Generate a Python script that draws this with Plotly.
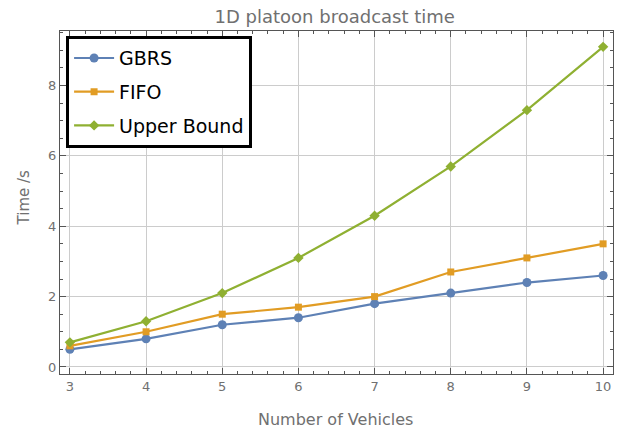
import plotly.graph_objects as go

vehicles = [3, 4, 5, 6, 7, 8, 9, 10]
gbrs = [0.5, 0.8, 1.2, 1.4, 1.8, 2.1, 2.4, 2.6]
fifo = [0.6, 1.0, 1.5, 1.7, 2.0, 2.7, 3.1, 3.5]
upper = [0.7, 1.3, 2.1, 3.1, 4.3, 5.7, 7.3, 9.1]

series = [
    ("GBRS", gbrs, "#5E81B5", "circle", 9),
    ("FIFO", fifo, "#E19C24", "square", 7),
    ("Upper Bound", upper, "#8FB032", "diamond", 8),
]

fig = go.Figure()
for i, (name, ys, col, sym, sz) in enumerate(series):
    fig.add_trace(go.Scatter(
        x=vehicles, y=ys, name=name, mode="lines+markers",
        line=dict(color=col, width=2.2),
        marker=dict(color=col, symbol=sym, size=sz),
        legendgroup=f"g{i}",
    ))

axis_common = dict(
    showgrid=True, gridcolor="#cccccc", gridwidth=1,
    showline=True, linecolor="#555555", linewidth=1, mirror="ticks",
    ticks="inside", ticklen=6, tickcolor="#555555",
    zeroline=False, automargin=False,
    tickfont=dict(family="DejaVu Sans", size=13, color="#707070"),
)

fig.update_layout(
    width=621, height=428,
    margin=dict(l=60, r=8, t=31, b=54),
    paper_bgcolor="white", plot_bgcolor="white",
    title=dict(text="1D platoon broadcast time", x=0.539, xanchor="center",
               y=0.962, yanchor="middle",
               font=dict(family="DejaVu Sans", size=18, color="#707070")),
    xaxis=dict(range=[2.87, 10.13], tickvals=vehicles,
               minor=dict(dtick=0.2, ticks="inside", ticklen=3, tickcolor="#555555", showgrid=False),
               **axis_common),
    yaxis=dict(range=[-0.2, 9.55], tickvals=[0, 2, 4, 6, 8],
               minor=dict(dtick=0.5, ticks="inside", ticklen=3, tickcolor="#555555", showgrid=False),
               **axis_common),
    legend=dict(x=0.011, y=0.985, xanchor="left", yanchor="top",
                bgcolor="white", bordercolor="black", borderwidth=3,
                font=dict(family="DejaVu Sans", size=19, color="black"),
                tracegroupgap=6, itemwidth=40),
    showlegend=True,
    annotations=[
        dict(text="Number of Vehicles", xref="paper", yref="paper", x=0.499, y=-0.134,
             xanchor="center", yanchor="middle", showarrow=False,
             font=dict(family="DejaVu Sans", size=16, color="#707070")),
        dict(text="Time /s", xref="paper", yref="paper", x=-0.065, y=0.515,
             xanchor="center", yanchor="middle", showarrow=False, textangle=-90,
             font=dict(family="DejaVu Sans", size=15, color="#707070")),
    ],
)

fig.write_html("out.html", config={"displayModeBar": False},
               post_script="document.body.style.margin='0';document.body.style.padding='0';")
